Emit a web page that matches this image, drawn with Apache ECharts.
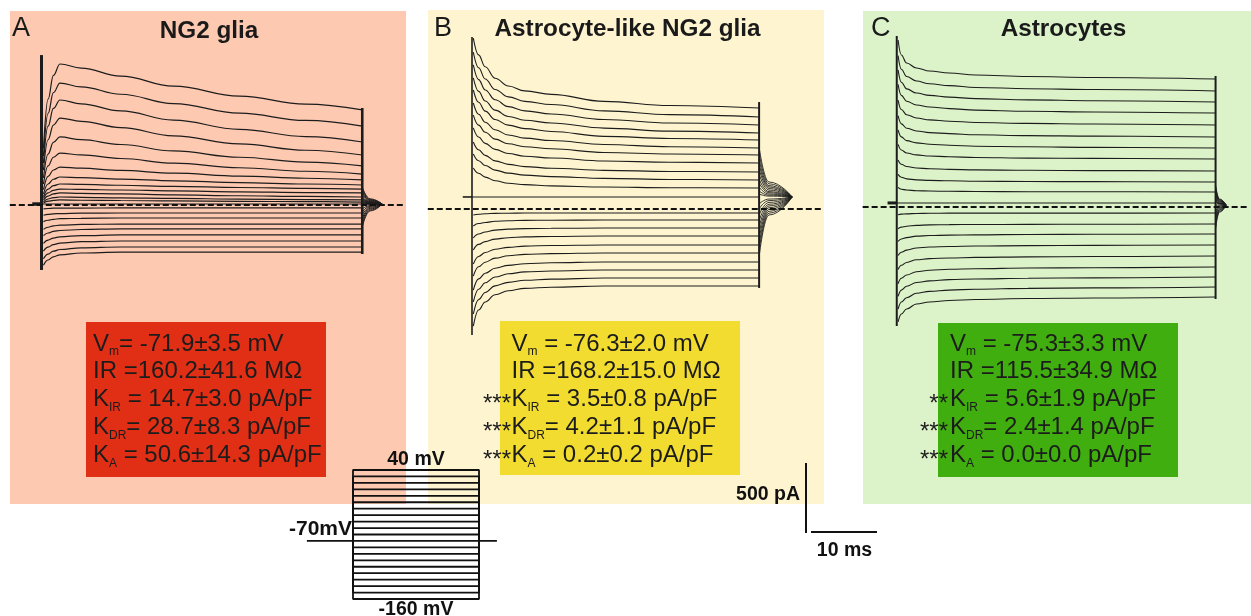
<!DOCTYPE html>
<html><head><meta charset="utf-8">
<script src="https://cdn.jsdelivr.net/npm/echarts@6/dist/echarts.min.js"></script>
<style>html,body{margin:0;padding:0;background:#fff}#c{width:1251px;height:616px}</style>
</head><body><div id="c"></div>
<script>
// ---------------- DATA (currents in pA, time in ms) ----------------
// Panel A: NG2 glia
const tA = [0.3, 1.0, 1.8, 2.8, 6, 12, 20, 30, 40, 48.6];
const outA = [
  [403, 756, 926, 1007, 978, 921, 849, 777, 721, 679],
  [349, 654, 802, 871, 844, 791, 724, 656, 604, 564],
  [300, 563, 690, 750, 723, 672, 606, 540, 489, 450],
  [249, 466, 571, 621, 598, 553, 494, 436, 391, 357],
  [194, 364, 447, 486, 467, 432, 386, 341, 306, 279],
  [149, 279, 341, 371, 358, 332, 299, 266, 241, 221],
  [109, 204, 250, 271, 263, 247, 227, 206, 191, 179],
  [80, 150, 184, 200, 195, 185, 173, 160, 150, 143],
  [60, 113, 138, 150, 147, 141, 133, 125, 119, 114],
  [46, 86, 105, 114, 111, 107, 101, 94, 89, 86],
  [34, 64, 79, 86, 83, 79, 72, 66, 61, 57],
  [23, 43, 53, 57, 55, 51, 47, 42, 39, 36],
  [14, 27, 33, 36, 34, 32, 29, 26, 24, 21]
];
const inA = [
  [-27, -25, -23, -23, -22, -21, -21, -21, -21, -21],
  [-73, -67, -63, -61, -58, -57, -57, -57, -57, -57],
  [-119, -109, -102, -98, -95, -93, -93, -93, -93, -93],
  [-174, -159, -149, -144, -139, -136, -136, -136, -136, -136],
  [-219, -200, -188, -182, -175, -171, -171, -171, -171, -171],
  [-274, -251, -236, -227, -219, -214, -214, -214, -214, -214],
  [-329, -301, -283, -273, -262, -257, -257, -257, -257, -257],
  [-384, -351, -330, -318, -306, -300, -300, -300, -300, -300],
  [-430, -393, -370, -356, -343, -336, -336, -336, -336, -336]
];
const tailTA = [48.6, 49.8, 51.6];
const tailA = [
  [129, 44, 7], [114, 39, 7], [100, 35, 7], [86, 31, 7], [71, 26, 7], [57, 22, 7], [50, 20, 7],
  [43, 18, 7], [36, 16, 7], [29, 14, 7], [21, 11, 7], [18, 10, 7], [14, 9, 7],
  [7, 7, 7], [-7, 3, 7], [-29, -4, 7], [-50, -10, 7], [-71, -16, 7], [-93, -23, 7], [-114, -29, 7], [-136, -36, 7], [-157, -42, 7]
];
const holdA = 7;
const onsetA = [1071, -464];
const offsetA = [693, -350];

// Panel B: Astrocyte-like NG2 glia
const tB = [0.2, 1, 2, 3.5, 5.5, 8, 12, 20, 30, 43.5];
const outB = [
  [1221, 1101, 1016, 934, 879, 844, 819, 769, 739, 721],
  [1121, 1009, 929, 854, 801, 769, 746, 701, 674, 657],
  [1029, 924, 850, 780, 731, 701, 679, 639, 614, 600],
  [936, 840, 771, 706, 661, 634, 614, 578, 556, 543],
  [850, 762, 699, 639, 599, 574, 554, 519, 504, 493],
  [757, 677, 620, 566, 529, 506, 489, 461, 445, 436],
  [671, 599, 548, 499, 466, 445, 430, 404, 393, 386],
  [579, 514, 469, 426, 396, 377, 364, 343, 334, 329],
  [479, 423, 383, 344, 319, 303, 291, 276, 268, 264],
  [393, 345, 311, 278, 256, 242, 231, 219, 211, 207],
  [293, 255, 228, 202, 184, 174, 165, 157, 152, 150]
];
const inB = [
  [-43, -37, -34, -31, -30, -29, -29, -29, -29, -29],
  [-121, -104, -96, -88, -84, -81, -80, -79, -79, -79],
  [-207, -179, -164, -151, -144, -140, -138, -136, -136, -136],
  [-293, -253, -233, -215, -205, -199, -196, -193, -193, -193],
  [-393, -339, -311, -287, -274, -265, -261, -257, -257, -257],
  [-479, -413, -380, -351, -334, -324, -319, -314, -314, -314],
  [-579, -499, -459, -423, -403, -391, -384, -379, -379, -379],
  [-664, -573, -527, -486, -463, -449, -443, -436, -436, -436],
  [-750, -647, -596, -549, -524, -509, -501, -493, -493, -493],
  [-836, -721, -664, -613, -584, -567, -559, -550, -550, -550]
];
const tailTB = [43.5, 45.0, 48.5];
const tailB = [
  [443, 193, 86], [400, 180, 86], [357, 167, 86], [321, 157, 86], [286, 146, 86], [250, 135, 86],
  [214, 124, 86], [186, 116, 86], [157, 107, 86], [129, 99, 86], [107, 92, 86],
  [36, 71, 86], [0, 60, 86], [-43, 47, 86], [-86, 34, 86], [-129, 22, 86], [-171, 9, 86],
  [-214, -4, 86], [-257, -17, 86], [-300, -30, 86], [-343, -43, 86]
];
const holdB = 86;
const onsetB = [1229, -900];
const offsetB = [764, -564];

// Panel C: Astrocytes
const tC = [0.2, 0.7, 1.5, 3, 5, 8, 12, 20, 30, 48.6];
const outC = [
  [1193, 1086, 1029, 993, 971, 957, 943, 932, 925, 914],
  [1081, 984, 932, 900, 880, 867, 854, 845, 839, 829],
  [979, 891, 844, 814, 797, 785, 774, 765, 759, 750],
  [876, 797, 755, 729, 714, 703, 692, 684, 679, 671],
  [764, 696, 659, 636, 622, 613, 604, 597, 593, 586],
  [652, 594, 563, 543, 531, 524, 516, 510, 506, 500],
  [550, 501, 474, 458, 448, 441, 434, 430, 426, 421],
  [447, 407, 386, 372, 364, 359, 354, 349, 347, 343],
  [336, 305, 289, 279, 273, 269, 265, 262, 260, 257],
  [233, 212, 201, 194, 190, 187, 184, 182, 181, 179],
  [140, 127, 121, 116, 114, 112, 111, 109, 109, 107]
];
const inC = [
  [-55, -51, -49, -46, -45, -44, -44, -44, -44, -43],
  [-155, -144, -138, -131, -128, -126, -125, -124, -123, -121],
  [-246, -229, -219, -208, -204, -201, -199, -196, -195, -193],
  [-347, -323, -308, -293, -286, -282, -279, -276, -274, -271],
  [-447, -416, -396, -377, -369, -364, -360, -356, -354, -350],
  [-548, -509, -486, -462, -452, -445, -441, -436, -434, -429],
  [-639, -594, -566, -539, -528, -519, -514, -509, -506, -500],
  [-730, -679, -648, -616, -603, -594, -587, -581, -578, -571],
  [-821, -764, -729, -693, -679, -668, -661, -654, -650, -643]
];
const tailTC = [48.6, 49.2, 50.2];
const tailC = [
  [157, 57, 14], [143, 53, 14], [129, 49, 14], [114, 44, 14], [100, 40, 14], [86, 36, 14],
  [71, 31, 14], [57, 27, 14], [50, 25, 14], [43, 23, 14], [36, 21, 14],
  [14, 14, 14], [-7, 8, 14], [-29, 1, 14], [-50, -5, 14], [-71, -11, 14], [-93, -18, 14],
  [-114, -24, 14], [-136, -31, 14], [-157, -37, 14]
];
const holdC = 29;
const onsetC = [1221, -850];
const offsetC = [936, -657];

// zero-current reference (dashed) extents, ms
const dashA = [-4.8, 55.2], dashB = [-6.7, 53.3], dashC = [-5.2, 53.6];

// voltage protocol (mV), step duration (ms)
const stepVoltages = [40, 30, 20, 10, 0, -10, -20, -30, -40, -50, -60, -70, -80, -90, -100, -110, -120, -130, -140, -150, -160];
const holdingV = -70;
const stepDur = 50;
const holdSpan = [-18.3, 57.1];

// scale bars
const scaleCurrent = 500; // pA
const scaleTime = 10;     // ms

// text
const titles = ['NG2 glia', 'Astrocyte-like NG2 glia', 'Astrocytes'];
const letters = ['A', 'B', 'C'];
const statsA = [['', 'V', 'm', '= -71.9±3.5 mV'], ['', 'IR =160.2±41.6 MΩ', '', ''], ['', 'K', 'IR', ' = 14.7±3.0 pA/pF'], ['', 'K', 'DR', '= 28.7±8.3 pA/pF'], ['', 'K', 'A', ' = 50.6±14.3 pA/pF']];
const statsB = [['', 'V', 'm', ' = -76.3±2.0 mV'], ['', 'IR =168.2±15.0 MΩ', '', ''], ['***', 'K', 'IR', ' = 3.5±0.8 pA/pF'], ['***', 'K', 'DR', '= 4.2±1.1 pA/pF'], ['***', 'K', 'A', ' = 0.2±0.2 pA/pF']];
const statsC = [['', 'V', 'm', ' = -75.3±3.3 mV'], ['', 'IR =115.5±34.9 MΩ', '', ''], ['**', 'K', 'IR', ' = 5.6±1.9 pA/pF'], ['***', 'K', 'DR', '= 2.4±1.4 pA/pF'], ['***', 'K', 'A', ' = 0.0±0.0 pA/pF']];

// ---------------- CHART ----------------
const FONT = "'Liberation Sans', Arial, Helvetica, sans-serif";
const INK = '#1c1c1c';
const chart = echarts.init(document.getElementById('c'), null, {renderer: 'canvas'});

const grids = [
  {left: 1.9, top: 9, width: 409.2, height: 490},
  {left: 419.2, top: 13, width: 409.2, height: 490},
  {left: 857.4, top: 11, width: 396, height: 490},
  {left: 300.08, top: 463.55, width: 200.1, height: 141.9},
  {left: 806, top: 463, width: 71, height: 70}
];
const xr = [[-6, 56], [-8, 54], [-6, 54], [-21, 58.4], [0, 10.758]];
const yr = [[-2100, 1400], [-2100, 1400], [-2100, 1400], [-170, 50], [0, 500]];
const xAxis = xr.map((r, i) => ({type: 'value', gridIndex: i, min: r[0], max: r[1], show: false}));
const yAxis = yr.map((r, i) => ({type: 'value', gridIndex: i, min: r[0], max: r[1], show: false}));

const series = [];
function addLine(g, data, width, opts) {
  series.push(Object.assign({
    type: 'line', xAxisIndex: g, yAxisIndex: g, data, symbol: 'none', silent: true,
    clip: false, animation: false, z: 3,
    lineStyle: {color: INK, width: width}
  }, opts || {}));
}
function panel(g, t, outs, ins, tailT, tails, hold, onset, offset, dash, wTrace, wOn, wOff, wPre) {
  addLine(g, [[dash[0], 0], [dash[1], 0]], 2, {lineStyle: {color: '#111', width: 2, type: [6, 3]}, z: 4});
  addLine(g, [[-1.4, hold], [0, hold]], wPre);
  addLine(g, [[0, hold], [t[t.length - 1], hold]], wTrace);
  outs.concat(ins).forEach(v => addLine(g, t.map((x, i) => [x, v[i]]), wTrace, {smooth: 0.4, smoothMonotone: 'x'}));
  tails.forEach(v => addLine(g, tailT.map((x, i) => [x, v[i]]), wTrace * 0.8, {smooth: 0.5, smoothMonotone: 'x'}));
  addLine(g, [[0, onset[0]], [0, onset[1]]], wOn);
  addLine(g, [[t[t.length - 1], offset[0]], [t[t.length - 1], offset[1]]], wOff);
}
panel(0, tA, outA, inA, tailTA, tailA, holdA, onsetA, offsetA, dashA, 1.2, 3, 2.6, 3.5);
panel(1, tB, outB, inB, tailTB, tailB, holdB, onsetB, offsetB, dashB, 1.1, 1.6, 2, 1.6);
panel(2, tC, outC, inC, tailTC, tailC, holdC, onsetC, offsetC, dashC, 1.1, 2, 2, 3);

// voltage protocol
stepVoltages.forEach(v => addLine(3, [[0, holdingV], [0, v], [stepDur, v], [stepDur, holdingV]], 1.8, {lineStyle: {color: '#111', width: 1.8}}));
addLine(3, [[holdSpan[0], holdingV], [0, holdingV]], 1.8, {lineStyle: {color: '#111', width: 1.8}});
addLine(3, [[stepDur, holdingV], [holdSpan[1], holdingV]], 1.8, {lineStyle: {color: '#111', width: 1.8}});

// scale bars
addLine(4, [[0, 0], [0, scaleCurrent]], 2, {lineStyle: {color: '#111', width: 2}});
addLine(4, [[xr[4][1] - scaleTime, 7], [xr[4][1], 7]], 2, {lineStyle: {color: '#111', width: 2}});

// ---------------- GRAPHICS (backgrounds, text) ----------------
const graphic = [];
function rect(x, y, w, h, fill) { graphic.push({type: 'rect', z: -10, silent: true, shape: {x, y, width: w, height: h}, style: {fill}}); }
rect(10, 11, 396, 493, '#fdc9b1');
rect(428, 10, 396, 494, '#fef5d0');
rect(863, 11, 388, 493, '#dcf3c9');
rect(86, 322, 240, 155, '#e12f16');
rect(500, 321, 240, 154, '#f1dc2f');
rect(938, 323, 240, 154, '#41ae10');

function text(x, y, str, size, weight, align, fill) {
  graphic.push({type: 'text', z: 20, silent: true, x, y,
    style: {text: str, fill: fill || INK, fontSize: size, fontFamily: FONT, fontWeight: weight || 'normal',
      align: align || 'left', textAlign: align || 'left', verticalAlign: 'middle', textVerticalAlign: 'middle'}});
}
const titleX = [209, 627.5, 1063.5];
const titleY = [31, 29, 29];
titles.forEach((s, i) => text(titleX[i], titleY[i], s, 24.3, 'bold', 'center', '#1a1a1a'));
const letterX = [12, 434, 871];
letters.forEach((s, i) => text(letterX[i], 29, s, 27, 'normal', 'left', '#1a1a1a'));

const rich = {
  m: {fontSize: 24, fontFamily: FONT, lineHeight: 28, fill: INK},
  s: {fontSize: 12, fontFamily: FONT, lineHeight: 8, verticalAlign: 'bottom', fill: INK}
};
function statBlock(stats, x, starX) {
  const y0 = 344, dy = 27.8;
  stats.forEach((row, i) => {
    const y = y0 + i * dy;
    let s = '{m|' + row[1] + '}';
    if (row[2]) s += '{s|' + row[2] + '}';
    if (row[3]) s += '{m|' + row[3] + '}';
    graphic.push({type: 'text', z: 20, silent: true, x, y,
      style: {text: s, rich, fill: INK, fontFamily: FONT, fontSize: 24, align: 'left', verticalAlign: 'middle', textVerticalAlign: 'middle'}});
    if (row[0]) text(starX, y + 5, row[0], 24, 'normal', 'right');
  });
}
statBlock(statsA, 93, 92);
statBlock(statsB, 511.5, 511);
statBlock(statsC, 950, 948);

// protocol & scale labels
text(416, 460, '40 mV', 19.5, 'bold', 'center', '#111');
text(352, 529, '-70mV', 21, 'bold', 'right', '#111');
text(416, 610, '-160 mV', 19.5, 'bold', 'center', '#111');
text(800, 495, '500 pA', 19.5, 'bold', 'right', '#111');
text(844.5, 551, '10 ms', 19.5, 'bold', 'center', '#111');

chart.setOption({animation: false, grid: grids, xAxis, yAxis, series, graphic});
</script></body></html>
